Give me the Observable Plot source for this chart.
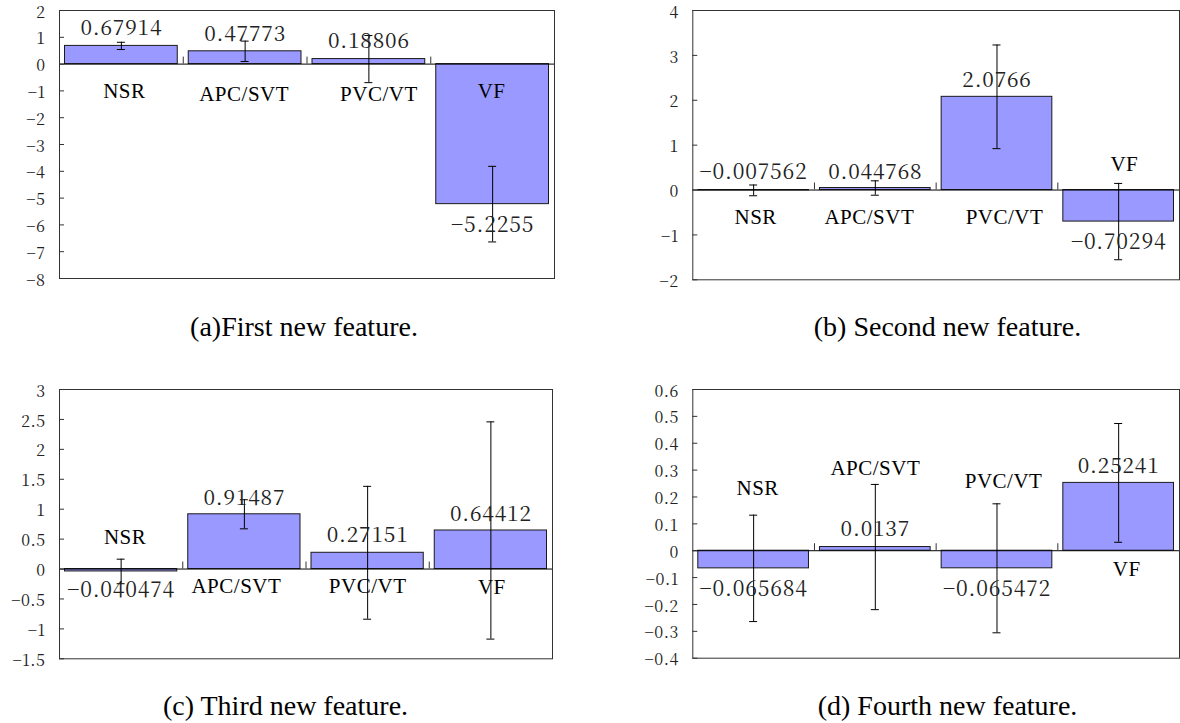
<!DOCTYPE html>
<html><head><meta charset="utf-8">
<script src="https://cdn.jsdelivr.net/npm/d3@7"></script>
<script src="https://cdn.jsdelivr.net/npm/@observablehq/plot@0.6"></script>
<style>
body{margin:0;background:#fff;width:1180px;height:723px;position:relative;overflow:hidden;font-family:"Liberation Serif",serif;}
.panel{position:absolute;}
.caption{position:absolute;font-size:28px;line-height:28px;white-space:nowrap;transform:translateX(-50%);color:#000;font-family:"Liberation Serif",serif;}
g[aria-description="values"] text{letter-spacing:0.8px;}
g[aria-description="names"] text{letter-spacing:0.5px;}
g[aria-label="y-axis tick label"] text{letter-spacing:0.5px;}
</style></head><body>
<script>
// ---- data ----
const categories = ["NSR", "APC/SVT", "PVC/VT", "VF"];

const firstMeans  = [0.67914, 0.47773, 0.18806, -5.2255];
const firstErrors = [0.135, 0.38, 0.88, 1.41];
const firstTicks  = [-8, -7, -6, -5, -4, -3, -2, -1, 0, 1, 2];

const secondMeans  = [-0.007562, 0.044768, 2.0766, -0.70294];
const secondErrors = [0.12, 0.16, 1.155, 0.85];
const secondTicks  = [-2, -1, 0, 1, 2, 3, 4];

const thirdMeans  = [-0.040474, 0.91487, 0.27151, 0.64412];
const thirdErrors = [0.205, 0.243, 1.11, 1.815];
const thirdTicks  = [-1.5, -1, -0.5, 0, 0.5, 1, 1.5, 2, 2.5, 3];

const fourthMeans  = [-0.065684, 0.0137, -0.065472, 0.25241];
const fourthErrors = [0.198, 0.233, 0.24, 0.221];
const fourthTicks  = [-0.4, -0.3, -0.2, -0.1, 0, 0.1, 0.2, 0.3, 0.4, 0.5, 0.6];

const captions = ["(a)First new feature.", "(b) Second new feature.", "(c) Third new feature.", "(d) Fourth new feature."];

// ---- layout (pixels) ----
const panels = [
  {means: firstMeans, errors: firstErrors, ticks: firstTicks, caption: captions[0],
   left: 0, top: 0, width: 580, height: 300, margin: {top: 10, right: 26, bottom: 22, left: 59},
   capX: 304, capTop: 313,
   valueDy: [-17.5, -17.5, -17.5, 21.5], nameDy: [27, 30, 30, 27], nameDx: [3, -1, 10, -1]},
  {means: secondMeans, errors: secondErrors, ticks: secondTicks, caption: captions[1],
   left: 600, top: 0, width: 580, height: 300, margin: {top: 10, right: 1, bottom: 20.7, left: 92.3},
   capX: 947.5, capTop: 313,
   valueDy: [-18, -16, -17, 21], nameDy: [27, 27, 27, -26], nameDx: [2, -6, 7.5, 5.7]},
  {means: thirdMeans, errors: thirdErrors, ticks: thirdTicks, caption: captions[2],
   left: 0, top: 370, width: 580, height: 310, margin: {top: 19, right: 28, bottom: 21.7, left: 59},
   capX: 285.5, capTop: 691.6,
   valueDy: [19, -16, -18, -16.7], nameDy: [-32, 17.3, 17.3, 18.5], nameDx: [4, -8, 0, 1]},
  {means: fourthMeans, errors: fourthErrors, ticks: fourthTicks, caption: captions[3],
   left: 600, top: 370, width: 580, height: 310, margin: {top: 19, right: 1, bottom: 22.3, left: 92.3},
   capX: 947.5, capTop: 691.6,
   valueDy: [21, -18, 21, -16.7], nameDy: [-62.7, -82, -69.4, 18.6], nameDx: [4, 0, 6.6, 8]}
];

const NUMFONT = "'Noto Serif CJK KR', 'Liberation Serif', serif";
const NAMEFONT = "'Liberation Serif', serif";
const fmtTick = d => d < 0 ? "\u2212" + Math.abs(d) : String(d);
const fmtVal = v => (v < 0 ? "\u2212" : "") + Math.abs(v);

for (const p of panels) {
  const rows = categories.map((c, i) => ({cat: c, i, mean: p.means[i], err: p.errors[i]}));
  const mid = d => d.i + 0.5;
  const marks = [
    Plot.rectY(rows, {x1: d => d.i, x2: d => d.i + 1, y: d => d.mean, insetLeft: 5.5, insetRight: 5.5,
      fill: "#9999ff", stroke: "#1a1a1a", strokeWidth: 1}),
    Plot.ruleY([0], {stroke: "#000", strokeWidth: 1}),
    Plot.ruleX([1, 2, 3], {x: d => d, y1: () => 0, y2: () => 0, insetTop: -7, stroke: "#333"}),
    Plot.ruleY(p.ticks, {y: d => d, x1: () => 0, x2: () => 0, insetRight: -5, stroke: "#333"}),
    Plot.axisY(p.ticks, {tickSize: 0, tickPadding: 14, fontSize: 16, fontFamily: NUMFONT, dy: 2,
      tickFormat: fmtTick, fill: "#222", label: null}),
    Plot.ruleX(rows, {x: mid, y1: d => d.mean - d.err, y2: d => d.mean + d.err, stroke: "#000"}),
    Plot.ruleY(rows, {y: d => d.mean + d.err, x1: mid, x2: mid, insetLeft: -4, insetRight: -4, stroke: "#000"}),
    Plot.ruleY(rows, {y: d => d.mean - d.err, x1: mid, x2: mid, insetLeft: -4, insetRight: -4, stroke: "#000"}),
    Plot.frame({stroke: "#333"})
  ];
  for (const r of rows) {
    marks.push(Plot.text([r], {x: mid, y: d => d.mean, text: d => fmtVal(d.mean), dy: p.valueDy[r.i],
      fontSize: 21, fontFamily: NUMFONT, fill: "#222", ariaDescription: "values"}));
    marks.push(Plot.text([r], {x: mid, y: () => 0, text: d => d.cat, dy: p.nameDy[r.i], dx: p.nameDx[r.i],
      fontSize: 21, fontFamily: NAMEFONT, fill: "#000", ariaDescription: "names"}));
  }
  const svg = Plot.plot({
    width: p.width, height: p.height,
    marginTop: p.margin.top, marginRight: p.margin.right, marginBottom: p.margin.bottom, marginLeft: p.margin.left,
    x: {domain: [0, 4], axis: null},
    y: {domain: [p.ticks[0], p.ticks[p.ticks.length - 1]], axis: null},
    style: {fontFamily: NAMEFONT, background: "transparent", overflow: "visible"},
    marks
  });
  const wrap = document.createElement("div");
  wrap.className = "panel";
  wrap.style.left = p.left + "px";
  wrap.style.top = p.top + "px";
  wrap.appendChild(svg);
  document.body.appendChild(wrap);

  const cap = document.createElement("div");
  cap.className = "caption";
  cap.style.left = p.capX + "px";
  cap.style.top = p.capTop + "px";
  cap.textContent = p.caption;
  document.body.appendChild(cap);
}
</script>
</body></html>
